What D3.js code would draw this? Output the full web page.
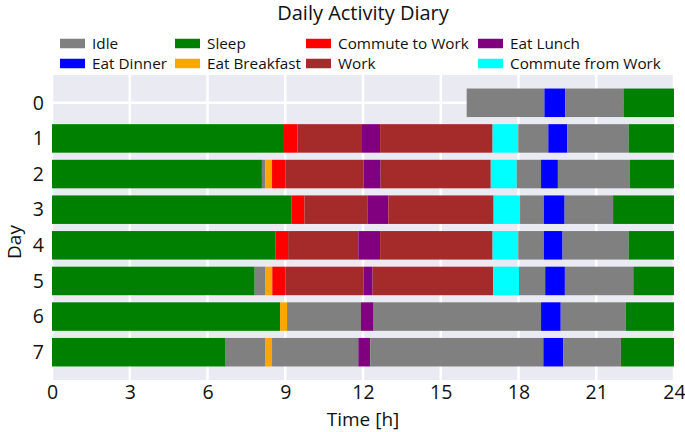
<!DOCTYPE html>
<html>
<head>
<meta charset="utf-8">
<script src="https://cdn.jsdelivr.net/npm/d3@7"></script>
<style>
  body { margin: 0; background: #fff; }
  text { font-family: "Open Sans", sans-serif; fill: #111; }
</style>
</head>
<body>
<div id="chart"></div>
<script>
// activities and their colours (legend order, column by column)
const activities = ["Idle", "Eat Dinner", "Sleep", "Eat Breakfast", "Commute to Work", "Work", "Eat Lunch", "Commute from Work"];
const activityColors = ["#808080", "#0000ff", "#008000", "#ffa500", "#ff0000", "#a52a2a", "#800080", "#00ffff"];

const days = [0, 1, 2, 3, 4, 5, 6, 7];
const xTicks = [0, 3, 6, 9, 12, 15, 18, 21, 24];

// each day: start hour, then end hour + activity of every segment
const dayStart = [16, 0, 0, 0, 0, 0, 0, 0];
const dayEnds = [
  [19.0, 19.8, 22.05, 24],
  [8.95, 9.47, 11.96, 12.66, 17.0, 17.99, 19.15, 19.88, 22.25, 24],
  [8.1, 8.23, 8.49, 9.0, 12.03, 12.68, 16.93, 17.93, 18.87, 19.52, 22.3, 24],
  [9.25, 9.74, 12.17, 12.98, 17.04, 18.06, 18.98, 19.78, 21.65, 24],
  [8.62, 9.11, 11.82, 12.66, 17.0, 17.99, 18.98, 19.7, 22.25, 24],
  [7.82, 8.24, 8.5, 9.0, 12.03, 12.37, 17.02, 18.02, 19.03, 19.79, 22.43, 24],
  [8.8, 9.07, 11.92, 12.41, 18.87, 19.63, 22.14, 24],
  [6.7, 8.24, 8.49, 11.82, 12.28, 18.96, 19.73, 21.95, 24]
];
const dayActs = [
  ["Idle", "Eat Dinner", "Idle", "Sleep"],
  ["Sleep", "Commute to Work", "Work", "Eat Lunch", "Work", "Commute from Work", "Idle", "Eat Dinner", "Idle", "Sleep"],
  ["Sleep", "Idle", "Eat Breakfast", "Commute to Work", "Work", "Eat Lunch", "Work", "Commute from Work", "Idle", "Eat Dinner", "Idle", "Sleep"],
  ["Sleep", "Commute to Work", "Work", "Eat Lunch", "Work", "Commute from Work", "Idle", "Eat Dinner", "Idle", "Sleep"],
  ["Sleep", "Commute to Work", "Work", "Eat Lunch", "Work", "Commute from Work", "Idle", "Eat Dinner", "Idle", "Sleep"],
  ["Sleep", "Idle", "Eat Breakfast", "Commute to Work", "Work", "Eat Lunch", "Work", "Commute from Work", "Idle", "Eat Dinner", "Idle", "Sleep"],
  ["Sleep", "Eat Breakfast", "Idle", "Eat Lunch", "Idle", "Eat Dinner", "Idle", "Sleep"],
  ["Sleep", "Idle", "Eat Breakfast", "Idle", "Eat Lunch", "Idle", "Eat Dinner", "Idle", "Sleep"]
];

const W = 685, H = 432;
const Margin = {TOP: 75, BOTTOM: 52, LEFT: 52, RIGHT: 11};

const svg = d3.select("#chart").append("svg")
  .attr("width", W).attr("height", H);

const x = d3.scaleLinear().domain([0, 24]).range([Margin.LEFT, W - Margin.RIGHT]);
const y = d3.scaleLinear().domain([-0.78, 7.78]).range([Margin.TOP, H - Margin.BOTTOM]);
const color = d3.scaleOrdinal().domain(activities).range(activityColors);

// panel + grid
svg.append("rect")
  .attr("x", x(0)).attr("y", y(-0.78))
  .attr("width", x(24) - x(0)).attr("height", y(7.78) - y(-0.78))
  .attr("fill", "#eaeaf2");

svg.append("g").selectAll("line").data(xTicks).join("line")
  .attr("x1", d => x(d)).attr("x2", d => x(d))
  .attr("y1", y(-0.78)).attr("y2", y(7.78))
  .attr("stroke", "#fff").attr("stroke-width", 2.5);

svg.append("g").selectAll("line").data(days).join("line")
  .attr("x1", x(0)).attr("x2", x(24))
  .attr("y1", d => y(d)).attr("y2", d => y(d))
  .attr("stroke", "#fff").attr("stroke-width", 2.5);

// segments
const segs = [];
days.forEach((d, i) => {
  let s = dayStart[i];
  dayEnds[i].forEach((e, j) => {
    segs.push({day: d, start: s, end: e, act: dayActs[i][j]});
    s = e;
  });
});

const barH = y(0.4) - y(-0.4);
svg.append("g").selectAll("rect").data(segs).join("rect")
  .attr("x", d => x(d.start))
  .attr("y", d => y(d.day) - barH / 2)
  .attr("width", d => x(d.end) - x(d.start))
  .attr("height", barH)
  .attr("fill", d => color(d.act));

// axes
const xAxis = svg.append("g")
  .attr("transform", `translate(0,${y(7.78)})`)
  .call(d3.axisBottom(x).tickValues(xTicks).tickSize(0).tickPadding(5));
xAxis.select(".domain").remove();
xAxis.selectAll("text").style("font-size", "19.5px").style("font-family", "Open Sans, sans-serif").attr("fill", "#111");

const yAxis = svg.append("g")
  .attr("transform", `translate(${x(0)},0)`)
  .call(d3.axisLeft(y).tickValues(days).tickFormat(d3.format("d")).tickSize(0).tickPadding(8));
yAxis.select(".domain").remove();
yAxis.selectAll("text").style("font-size", "19.5px").style("font-family", "Open Sans, sans-serif").attr("fill", "#111");

svg.append("text")
  .attr("x", (x(0) + x(24)) / 2).attr("y", 426)
  .attr("text-anchor", "middle")
  .style("font-size", "19px")
  .text("Time [h]");

svg.append("text")
  .attr("transform", `translate(21,242) rotate(-90)`)
  .attr("text-anchor", "middle")
  .style("font-size", "19px")
  .text("Day");

svg.append("text")
  .attr("x", (x(0) + x(24)) / 2).attr("y", 20)
  .attr("text-anchor", "middle")
  .style("font-size", "20px")
  .text("Daily Activity Diary");

// legend, 4 columns filled column-wise
const legCols = [60, 175, 306, 478];
const legRows = [43.5, 63.5];
const leg = svg.append("g").selectAll("g").data(activities).join("g")
  .attr("transform", (d, i) => `translate(${legCols[Math.floor(i / 2)]},${legRows[i % 2]})`);
leg.append("rect")
  .attr("x", 0).attr("y", -4.75).attr("width", 25).attr("height", 9.5)
  .attr("fill", (d, i) => activityColors[i]);
leg.append("text")
  .attr("x", 32).attr("y", 5.5)
  .style("font-size", "15.3px")
  .text(d => d);
</script>
</body>
</html>
